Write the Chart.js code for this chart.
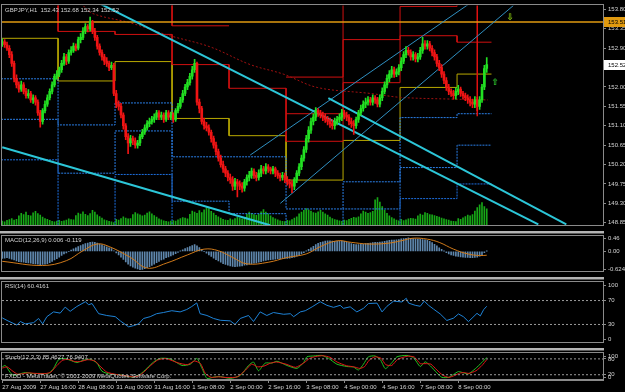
<!DOCTYPE html>
<html><head><meta charset="utf-8">
<script src="https://cdn.jsdelivr.net/npm/chart.js@4.4.1/dist/chart.umd.min.js"></script>
<style>
html,body{margin:0;padding:0;background:#000;}
body{width:625px;height:392px;position:relative;overflow:hidden}
canvas{position:absolute;left:0;display:block}
</style></head><body>
<canvas id="cMain" style="top:0px;width:625px;height:231px" width="625" height="231"></canvas>
<canvas id="cMacd" style="top:231px;width:625px;height:46px" width="625" height="46"></canvas>
<canvas id="cRsi" style="top:277px;width:625px;height:71px" width="625" height="71"></canvas>
<canvas id="cSto" style="top:348px;width:625px;height:44px" width="625" height="44"></canvas>
<script>
// ---------------- DATA ----------------
const symbolTitle = 'GBPJPY,H1  152.43 152.68 152.34 152.52';
const opens = [
153.00,153.05,152.98,152.90,152.75,152.55,152.20,152.05,151.95,152.05,
151.90,151.80,151.85,151.70,151.75,151.65,151.40,151.20,151.45,151.60,
151.75,151.90,152.05,152.25,152.30,152.40,152.55,152.70,152.60,152.80,
152.85,152.95,152.90,153.10,153.15,153.30,153.40,153.35,153.50,153.30,
153.15,152.95,152.80,152.70,152.60,152.55,152.45,152.50,151.85,151.60,
151.55,151.35,151.10,150.85,150.70,150.80,150.75,150.65,150.70,150.85,
150.95,151.05,151.15,151.20,151.25,151.30,151.40,151.30,151.35,151.25,
151.40,151.30,151.35,151.25,151.45,151.55,151.70,151.85,152.00,152.10,
152.25,152.40,152.55,151.65,151.50,151.20,151.10,151.05,150.95,150.80,
150.65,150.50,150.35,150.20,150.10,150.00,149.90,149.85,149.70,149.80,
149.75,149.70,149.65,149.80,149.90,149.95,150.05,149.95,149.90,150.00,
150.10,150.05,150.15,150.10,150.05,150.10,150.00,149.95,149.90,149.95,
149.85,149.80,149.75,149.70,149.85,150.00,150.15,150.35,150.55,150.80,
151.00,151.20,151.30,151.45,151.40,151.35,151.30,151.25,151.20,151.15,
151.10,151.20,151.25,151.30,151.40,151.35,151.30,151.20,151.15,151.10,
151.25,151.40,151.50,151.60,151.65,151.70,151.65,151.75,151.70,151.60,
151.75,151.90,152.05,152.20,152.30,152.40,152.30,152.35,152.45,152.60,
152.75,152.85,152.80,152.70,152.75,152.65,152.70,152.85,153.00,152.95,
153.00,152.90,152.80,152.70,152.55,152.45,152.30,152.15,152.00,151.90,
151.85,151.80,151.90,151.95,151.85,151.80,151.75,151.70,151.65,151.60,
151.70,151.55,151.70,152.00,152.43];
const highs = [
153.12,153.10,153.04,152.96,152.82,152.60,152.28,152.12,152.14,152.10,
151.97,151.94,151.90,151.82,151.80,151.70,151.46,151.50,151.68,151.82,
151.96,152.12,152.30,152.38,152.46,152.62,152.78,152.76,152.86,152.94,
153.02,153.00,153.16,153.24,153.38,153.47,153.45,153.62,153.55,153.36,
153.20,153.00,152.86,152.76,152.68,152.60,152.58,152.55,151.92,151.68,
151.62,151.40,151.15,150.92,150.88,150.86,150.82,150.76,150.90,151.02,
151.12,151.22,151.28,151.32,151.38,151.46,151.45,151.42,151.40,151.46,
151.45,151.42,151.40,151.50,151.62,151.76,151.92,152.06,152.18,152.32,
152.48,152.64,152.58,151.72,151.55,151.28,151.18,151.12,151.00,150.86,
150.72,150.56,150.42,150.28,150.16,150.06,149.98,149.92,149.88,149.86,
149.82,149.78,149.86,149.96,150.04,150.12,150.10,150.02,150.08,150.18,
150.16,150.22,150.20,150.14,150.16,150.14,150.06,150.00,150.02,150.00,
149.92,149.86,149.82,149.90,150.06,150.22,150.42,150.62,150.88,151.08,
151.28,151.38,151.52,151.50,151.46,151.42,151.38,151.32,151.28,151.24,
151.28,151.32,151.38,151.48,151.46,151.42,151.36,151.28,151.22,151.30,
151.46,151.58,151.68,151.74,151.78,151.76,151.82,151.80,151.76,151.82,
151.98,152.12,152.28,152.38,152.48,152.46,152.42,152.52,152.68,152.82,
152.94,152.92,152.86,152.82,152.80,152.78,152.92,153.15,153.08,153.08,
153.06,152.96,152.86,152.76,152.62,152.52,152.36,152.22,152.06,151.96,
151.92,151.98,152.04,152.00,151.90,151.86,151.82,151.78,151.72,151.78,
151.76,151.78,152.06,152.50,152.68];
const lows = [
152.94,152.92,152.85,152.68,152.48,152.12,151.98,151.88,151.90,151.84,
151.74,151.74,151.64,151.62,151.58,151.34,151.07,151.14,151.40,151.55,
151.70,151.84,152.00,152.18,152.24,152.34,152.50,152.52,152.55,152.74,
152.80,152.84,152.86,153.02,153.10,153.24,153.28,153.30,153.24,153.08,
152.88,152.74,152.62,152.52,152.48,152.38,152.40,151.80,151.52,151.46,
151.28,151.02,150.78,150.45,150.62,150.66,150.58,150.58,150.64,150.80,
150.90,151.00,151.08,151.14,151.18,151.24,151.24,151.24,151.18,151.20,
151.24,151.24,151.18,151.20,151.40,151.50,151.64,151.80,151.94,152.04,
152.18,152.34,151.58,151.40,151.14,151.02,150.98,150.88,150.72,150.58,
150.42,150.28,150.14,150.02,149.92,149.82,149.76,149.60,149.62,149.45,
149.62,149.56,149.58,149.72,149.82,149.88,149.88,149.82,149.84,149.92,
149.98,149.98,150.02,149.98,149.98,149.92,149.88,149.82,149.84,149.78,
149.72,149.66,149.55,149.62,149.78,149.94,150.08,150.28,150.48,150.72,
150.92,151.12,151.22,151.32,151.28,151.22,151.18,151.12,151.06,151.02,
151.02,151.12,151.18,151.22,151.26,151.22,151.12,151.06,150.90,151.04,
151.18,151.34,151.44,151.52,151.58,151.58,151.58,151.62,151.54,151.54,
151.68,151.84,151.98,152.12,152.22,152.22,152.24,152.28,152.38,152.54,
152.68,152.74,152.62,152.62,152.58,152.58,152.64,152.78,152.88,152.88,
152.84,152.72,152.62,152.48,152.38,152.22,152.08,151.92,151.82,151.78,
151.72,151.72,151.82,151.78,151.72,151.68,151.62,151.56,151.52,151.52,
151.45,151.48,151.64,151.94,152.34];
const closes = [
153.05,152.98,152.90,152.75,152.55,152.20,152.05,151.95,152.05,151.90,
151.80,151.85,151.70,151.75,151.65,151.40,151.20,151.45,151.60,151.75,
151.90,152.05,152.25,152.30,152.40,152.55,152.70,152.60,152.80,152.85,
152.95,152.90,153.10,153.15,153.30,153.40,153.35,153.50,153.30,153.15,
152.95,152.80,152.70,152.60,152.55,152.45,152.50,151.85,151.60,151.55,
151.35,151.10,150.85,150.70,150.80,150.75,150.65,150.70,150.85,150.95,
151.05,151.15,151.20,151.25,151.30,151.40,151.30,151.35,151.25,151.40,
151.30,151.35,151.25,151.45,151.55,151.70,151.85,152.00,152.10,152.25,
152.40,152.55,151.65,151.50,151.20,151.10,151.05,150.95,150.80,150.65,
150.50,150.35,150.20,150.10,150.00,149.90,149.85,149.70,149.80,149.75,
149.70,149.65,149.80,149.90,149.95,150.05,149.95,149.90,150.00,150.10,
150.05,150.15,150.10,150.05,150.10,150.00,149.95,149.90,149.95,149.85,
149.80,149.75,149.70,149.85,150.00,150.15,150.35,150.55,150.80,151.00,
151.20,151.30,151.45,151.40,151.35,151.30,151.25,151.20,151.15,151.10,
151.20,151.25,151.30,151.40,151.35,151.30,151.20,151.15,151.10,151.25,
151.40,151.50,151.60,151.65,151.70,151.65,151.75,151.70,151.60,151.75,
151.90,152.05,152.20,152.30,152.40,152.30,152.35,152.45,152.60,152.75,
152.85,152.80,152.70,152.75,152.65,152.70,152.85,153.00,152.95,153.00,
152.90,152.80,152.70,152.55,152.45,152.30,152.15,152.00,151.90,151.85,
151.80,151.90,151.95,151.85,151.80,151.75,151.70,151.65,151.60,151.70,
151.55,151.70,152.00,152.43,152.52];
const volumes = [
450,380,520,610,700,560,640,980,1250,1120,1380,1050,990,1310,1470,1220,1080,860,720,640,530,410,380,450,
520,430,480,560,690,610,580,1010,1290,1180,1420,1150,1020,1230,1560,1380,1100,920,760,580,490,420,360,300,
620,540,710,880,760,690,720,1120,1340,1210,1090,980,1060,1270,1410,1190,1030,870,680,590,470,420,380,440,
510,460,590,720,810,770,690,1150,1480,1390,1260,1530,1340,1610,1820,1750,1470,1280,1050,880,760,640,560,520,
680,590,720,840,760,690,810,1180,1370,1260,1120,1050,1180,1420,1650,1380,1210,980,820,690,580,470,420,390,
530,470,610,760,890,1210,1380,1560,1740,1620,1490,1320,1270,1410,1560,1390,1210,1060,870,720,610,540,470,420,
560,510,620,740,830,790,880,1210,1490,1380,1260,1320,1470,2650,2890,2420,1960,1580,1240,980,820,690,560,480,
620,490,570,680,740,710,660,980,1180,1070,1340,1250,1120,1090,1010,940,870,760,690,610,540,460,410,390,
720,640,780,910,1060,980,1120,1490,1840,2130,2380,1960,1720];

// pivot levels per trading day (27 Aug .. 8 Sep); values outside the visible range are off-chart, null = not drawn
const dayStartBars = [-0.5,23.5,47.5,71.5,95.5,119.5,143.5,167.5,191.5];
const lastBarEdge = 206;
const pivotP  = [153.13,152.14,152.59,151.27,150.87,149.84,150.76,151.99,152.30];
const pivotR1 = [154.20,153.29,153.22,152.52,151.97,150.74,152.10,153.19,153.04];
const pivotR2 = [null,154.20,154.20,153.42,null,151.38,153.10,153.87,154.20];
const pivotR3 = [null,null,null,null,null,152.23,154.20,null,null];
const pivotS1 = [152.19,151.12,151.63,150.38,150.38,149.17,149.80,151.29,151.38];
const pivotS2 = [151.25,150.00,150.98,149.35,149.06,148.50,149.17,150.13,150.65];
const pivotS3 = [150.31,148.50,149.97,148.50,148.50,148.50,148.50,149.41,149.75];
const vLineBar = 200;

const hLinePrice = 153.51;
const lastPrice = 152.52;
// trend lines: [bar, price] end points
const trendCyan = [
  [[41.3,153.93],[225.7,148.81]],
  [[137.3,151.74],[237.5,148.81]],
  [[0,150.60],[112.8,148.79]]
];
const channelLines = [
  [[117.1,149.30],[215.2,153.89]],
  [[104.4,150.42],[196.6,153.93]]
];
const maCurve = [[33,153.95],[37.9,153.71],[53.9,153.49],[70,153.20],[87.6,152.93],[104.4,152.52],[118.3,152.30],[132.6,151.99],[155,151.85],[167.6,151.76],[188.6,151.72],[204.5,151.70]];
const arrowMarks = [{bar:207.6, price:152.10, ch:'\u21E7', color:'#2ecc2e'}, {bar:213.9, price:153.62, ch:'\u21E9', color:'#8ccc10'}];

const priceTicks = [153.80,153.35,152.90,152.45,152.00,151.55,151.10,150.65,150.20,149.75,149.30,148.85];

// MACD(12,26,9)
const macdTitle = 'MACD(12,26,9) 0.006 -0.119';
const macdMain = [
-0.22,-0.21,-0.20,-0.22,-0.24,-0.27,-0.30,-0.32,-0.33,-0.34,
-0.35,-0.36,-0.37,-0.38,-0.39,-0.40,-0.42,-0.41,-0.40,-0.38,
-0.35,-0.31,-0.27,-0.23,-0.18,-0.13,-0.08,-0.05,0.00,0.04,
0.08,0.11,0.15,0.18,0.21,0.24,0.26,0.28,0.29,0.28,
0.26,0.23,0.20,0.17,0.14,0.11,0.09,0.02,-0.05,-0.11,
-0.18,-0.25,-0.33,-0.40,-0.45,-0.49,-0.52,-0.55,-0.57,-0.56,
-0.54,-0.51,-0.48,-0.44,-0.40,-0.35,-0.31,-0.27,-0.24,-0.20,
-0.17,-0.14,-0.11,-0.07,-0.03,0.01,0.05,0.09,0.12,0.15,
0.18,0.21,0.17,0.12,0.06,0.00,-0.06,-0.11,-0.16,-0.21,
-0.26,-0.30,-0.34,-0.38,-0.41,-0.43,-0.45,-0.47,-0.48,-0.47,
-0.46,-0.45,-0.43,-0.42,-0.40,-0.38,-0.37,-0.36,-0.34,-0.32,
-0.30,-0.28,-0.27,-0.26,-0.25,-0.24,-0.23,-0.23,-0.22,-0.22,
-0.22,-0.21,-0.20,-0.18,-0.15,-0.12,-0.08,-0.04,0.01,0.06,
0.11,0.16,0.21,0.25,0.28,0.30,0.32,0.33,0.33,0.32,
0.31,0.31,0.31,0.32,0.31,0.29,0.27,0.24,0.22,0.21,
0.21,0.22,0.23,0.24,0.25,0.26,0.27,0.28,0.28,0.29,
0.30,0.31,0.33,0.34,0.35,0.35,0.36,0.37,0.39,0.40,
0.41,0.42,0.41,0.40,0.39,0.38,0.38,0.37,0.36,0.34,
0.31,0.27,0.22,0.17,0.11,0.06,0.01,-0.04,-0.08,-0.11,
-0.13,-0.15,-0.16,-0.17,-0.18,-0.19,-0.19,-0.20,-0.20,-0.19,
-0.18,-0.15,-0.10,-0.04,0.006];
const macdSignal = [[0,-0.31],[17,-0.44],[27,-0.29],[34,0.02],[40,0.23],[45,0.15],[54,-0.19],[61,-0.52],[69,-0.37],[78,-0.11],[85,0.07],[91,0.02],[97,-0.19],[103,-0.39],[112,-0.34],[120,-0.19],[128,-0.08],[134,0.15],[141,0.33],[147,0.28],[154,0.23],[162,0.25],[168,0.33],[173,0.41],[179,0.38],[184,0.28],[190,0.07],[196,-0.08],[201,-0.13],[204,-0.12]];
const macdTicks = [0.46,0.00,-0.624];
const macdTickText = ['0.46','0.00','-0.624'];

// RSI(14)
const rsiTitle = 'RSI(14) 60.4161';
const rsiLine = [[0,41],[2.4,36],[6.2,29],[7.6,35],[9.7,31],[13.2,33],[15.3,40],[17,31],[18.8,43],[21.6,51],[24.4,49],[26.5,59],[28.6,52],[31.4,60],[35,68],[36.4,63],[37.8,65],[40.6,48],[44,45],[47.6,43],[49.7,36],[53.2,26],[55.3,28],[57.4,31],[59.5,40],[62.3,43],[65,48],[67.9,50],[71.4,53],[74.9,51],[77.7,55],[79.8,60],[81.9,66],[83.3,48],[86.2,45],[89,40],[91.8,37],[96,36],[98,30],[100.2,40],[103.7,45],[105.8,35],[108.6,51],[111.4,45],[114.2,50],[118.5,47],[121.3,48],[122.7,43],[125.5,51],[127.6,53],[130.5,59.5],[133.9,68],[136.7,62],[139.5,58.6],[142.3,62],[143.7,57],[146.5,59.5],[149.3,51],[152.1,57],[154.2,65],[157.8,65.7],[159.9,51],[162,60.4],[164.8,69],[168.3,67.6],[170.1,73.8],[171.1,65.7],[173.9,62],[176,60.4],[177.7,69],[179.5,62],[181.6,55.7],[184.4,47.6],[187.2,36.7],[190,40.5],[192.1,47.6],[194.2,42.9],[196.3,34.8],[197.8,40.5],[199.9,48.6],[201.3,44.3],[202.7,54.8],[204,60.4]];
const rsiLevels = [70,30];
const rsiTicks = [100,70,30,0];

// Stochastic(12,3,3)
const stoTitle = 'Stoch(12,3,3) 85.4627 76.9407';
const stoMain = [[0,49.5],[1.3,55],[3.4,28],[4.8,17],[6.9,22],[9.7,28],[13.2,24],[15.3,25],[17.4,24],[19.5,24],[21.6,44],[23.7,77],[25.8,82],[28.6,75],[31.4,66],[34.2,75],[37,79],[39.9,64],[42,33],[45.5,22],[49.7,20],[53.2,13],[55.3,11],[58.1,22],[60.9,44],[63.7,68],[66.5,82],[70.7,80],[75.7,55],[79.2,60],[82,82],[84.1,44],[86.2,6],[89,11],[91.8,13],[96,6],[100.2,17],[103.7,55],[105.8,68],[107.9,35],[110.7,64],[113.5,64],[115.7,71],[119.9,55],[124.1,44],[126.9,66],[128.3,88],[131.1,91],[134.6,93],[137.4,82],[140.9,60],[145.1,51],[147.9,49],[150,38],[152.1,60],[154.2,88],[157,91],[159.2,77],[161.3,43],[164.1,66],[166.2,88],[170.4,93],[173.2,84],[176,51],[178.1,69],[180.2,54],[183,27],[185.1,10],[187.9,10],[190,21],[192.1,32],[194.2,27],[196.3,23],[199.2,43],[201.9,66],[204,85.5]];
const stoSignal = [[0,45],[2,50],[4.5,33],[6.5,22],[8.5,24],[11,27],[14,25],[18,24],[20.5,30],[23,55],[25.5,75],[28,78],[30.5,70],[33,70],[36,77],[39,72],[41.5,50],[44,30],[48,21],[52,16],[55,12],[57.5,16],[60,33],[62.5,55],[65.5,76],[69,81],[74,65],[78,58],[81,72],[83.5,62],[85.5,25],[88,10],[91,12],[95,9],[99,12],[102.5,38],[105,60],[107.5,50],[110,52],[113,64],[115.5,68],[119.5,60],[123.5,48],[127,65],[129.5,82],[132,89],[135,92],[138,86],[141,68],[145,54],[148,50],[150.5,44],[152.5,50],[154.5,75],[157,88],[159.5,82],[161.5,58],[164,55],[166.5,78],[170.5,90],[173.5,87],[176,62],[178,62],[180.5,60],[183,38],[185.5,18],[188,10],[190.5,17],[192.5,26],[194.5,28],[196.5,25],[199.5,35],[202,55],[204,77]];
const stoLevels = [80,20];
const stoTicks = [100,80,20,0];
const copyright = 'FXDD - MetaTrader, \u00A9 2001-2009 MetaQuotes Software Corp.';

// time axis
const timeTickBars = [0,16,32,48,64,80,96,112,128,144,160,176,192];
const timeLabels = ['27 Aug 2009','27 Aug 16:00','28 Aug 08:00','31 Aug 00:00','31 Aug 16:00','1 Sep 08:00','2 Sep 00:00','2 Sep 16:00','3 Sep 08:00','4 Sep 00:00','4 Sep 16:00','7 Sep 08:00','8 Sep 00:00'];

// ---------------- RENDER ----------------
const X_MIN = -0.1, X_MAX = 252.95;
const FONT = 'Liberation Sans';
const TXT = '#d4d4d4';
const AX = '#8a8a8a';
const UP = '#22e022', DN = '#f01414';
Chart.defaults.font.family = FONT;
Chart.defaults.font.size = 6;
Chart.defaults.color = TXT;

const idx = closes.map((_, i) => i);
const pts = arr => arr.map(p => ({x: p[0], y: p[1]}));
const hline = v => [{x: X_MIN, y: v}, {x: X_MAX, y: v}];
function stepData(levels) {
  const d = [];
  levels.forEach((lv, k) => {
    const s = dayStartBars[k];
    const e = k + 1 < dayStartBars.length ? dayStartBars[k + 1] : lastBarEdge;
    if (lv === null) { d.push({x: s, y: null}); }
    else { d.push({x: s, y: lv}); d.push({x: e, y: lv}); }
  });
  return d;
}
function lineDs(data, color, width, dash, extra) {
  return Object.assign({type: 'line', data, borderColor: color, borderWidth: width, borderDash: dash || [], pointRadius: 0, fill: false, tension: 0, spanGaps: false}, extra || {});
}
const makeX = () => ({type: 'linear', min: X_MIN, max: X_MAX, offset: false, display: false, grid: {offset: false}});

const framePlugin = {
  id: 'frame',
  afterDraw(chart) {
    const {ctx, chartArea: a} = chart;
    const t = chart.options.plugins.frame || {};
    ctx.save();
    ctx.strokeStyle = AX; ctx.lineWidth = 1;
    ctx.strokeRect(Math.floor(a.left) - 0.5, Math.floor(a.top) - 0.5, Math.round(a.right - a.left) + 1, Math.round(a.bottom - a.top) + 1);
    if (t.topBand) {
      ctx.fillStyle = '#b4b4b4'; ctx.fillRect(0, 0, Math.round(a.right) + 1, 2);
      ctx.fillStyle = '#5a5a5a'; ctx.fillRect(0, 2, Math.round(a.right) + 1, 1);
    }
    ctx.font = '6px ' + FONT; ctx.fillStyle = TXT; ctx.textBaseline = 'middle'; ctx.textAlign = 'left';
    (t.texts || []).forEach(tx => ctx.fillText(tx.s, a.left + 3, a.top + tx.dy));
    ctx.restore();
  }
};

function yAxis(min, max, ticks, textFn, insetPx) {
  return {
    position: 'right', min, max,
    afterBuildTicks: s => {
      const ppu = (s.bottom - s.top) / (max - min);
      s.ticks = ticks.map(v => {
        let val = v;
        if (insetPx) {
          if (v === max) val = v - insetPx[0] / ppu;
          if (v === min) val = v + insetPx[1] / ppu;
        }
        return {value: val};
      });
    },
    afterFit: s => { s.width = 22; },
    ticks: {autoSkip: false, padding: 2, color: TXT, font: {size: 6, family: FONT}, callback: (v, i) => textFn(i)},
    grid: {drawOnChartArea: false, drawTicks: true, tickLength: 3, color: AX},
    border: {display: true, color: AX}
  };
}
const baseOpts = (padding) => ({
  responsive: false, maintainAspectRatio: false, animation: false, devicePixelRatio: 1, events: [],
  layout: {padding},
  plugins: {legend: {display: false}, tooltip: {enabled: false}}
});

// ---- main price chart ----
const P_MIN = 148.788, P_MAX = 153.889;
const mainDatasets = [
  {type: 'bar', data: idx.map(i => ({x: i, y: volumes[i]})), yAxisID: 'vol', backgroundColor: '#17a817', barThickness: 1, grouped: false, order: 20},
  lineDs(stepData(pivotS3), '#1d6fe0', 1, [2, 1], {order: 12}),
  lineDs(stepData(pivotS2), '#2a7fe8', 1, [2, 1], {order: 12}),
  lineDs(stepData(pivotS1), '#2a7fe8', 1, [2, 1], {order: 12}),
  lineDs(stepData(pivotR3), '#d01010', 1, [], {order: 12}),
  lineDs(stepData(pivotR2), '#d01010', 1, [], {order: 12}),
  lineDs(stepData(pivotR1), '#d01010', 1, [], {order: 12}),
  lineDs(stepData(pivotP), '#b8a800', 1, [], {order: 12}),
  lineDs([{x: vLineBar, y: 154.2}, {x: vLineBar, y: 151.32}], '#e01010', 1.5, [], {order: 11}),
  lineDs(pts(maCurve), '#a01010', 1, [2, 2], {tension: 0.35, order: 11}),
  lineDs(hline(hLinePrice), '#e09a10', 1.5, [], {order: 10}),
  ...channelLines.map(l => lineDs(pts(l), '#2f8fc0', 1, [], {order: 9})),
  ...trendCyan.map(l => lineDs(pts(l), '#2cc6d8', 2, [], {order: 8})),
  {type: 'bar', data: idx.map(i => ({x: i, y: [lows[i], highs[i]]})), backgroundColor: c => (closes[c.dataIndex] >= opens[c.dataIndex] ? UP : DN), barThickness: 1, grouped: false, order: 2},
  {type: 'bar', data: idx.map(i => ({x: i, y: [opens[i], closes[i]]})), backgroundColor: c => (closes[c.dataIndex] >= opens[c.dataIndex] ? UP : DN), barThickness: 2, grouped: false, order: 1}
];
const mainOpts = baseOpts({left: 2, top: 2, bottom: 1, right: 0});
mainOpts.scales = {
  x: makeX(),
  y: yAxis(P_MIN, P_MAX, priceTicks, i => priceTicks[i].toFixed(2)),
  vol: {axis: 'y', display: false, min: 0, max: 22800}
};
mainOpts.plugins.frame = {texts: [{s: symbolTitle, dy: 4.5}]};
const markPlugin = {
  id: 'marks',
  afterDraw(chart) {
    const {ctx, chartArea: a, scales} = chart;
    ctx.save();
    ctx.font = 'bold 9px DejaVu Sans'; ctx.textAlign = 'center'; ctx.textBaseline = 'middle';
    arrowMarks.forEach(m => { ctx.fillStyle = m.color; ctx.fillText(m.ch, scales.x.getPixelForValue(m.bar), scales.y.getPixelForValue(m.price)); });
    ctx.font = '6px ' + FONT; ctx.textAlign = 'left';
    [[hLinePrice, '#e09a10'], [lastPrice, '#ffffff']].forEach(([v, col]) => {
      const y = Math.round(scales.y.getPixelForValue(v));
      ctx.fillStyle = col; ctx.fillRect(a.right + 1, y - 5, 22, 10);
      ctx.fillStyle = '#000'; ctx.fillText(v.toFixed(2), a.right + 5, y + 0.5);
    });
    ctx.restore();
  }
};
new Chart(document.getElementById('cMain'), {data: {datasets: mainDatasets}, options: mainOpts, plugins: [framePlugin, markPlugin]});

// ---- MACD ----
const macdOpts = baseOpts({left: 2, top: 3, bottom: 2, right: 0});
macdOpts.scales = {x: makeX(), y: yAxis(-0.624, 0.46, macdTicks, i => macdTickText[i], [2, 2])};
macdOpts.plugins.frame = {topBand: true, texts: [{s: macdTitle, dy: 4}]};
new Chart(document.getElementById('cMacd'), {
  data: {datasets: [
    lineDs(pts(macdSignal), '#d07a1a', 1, [], {tension: 0.4, order: 1}),
    {type: 'bar', data: idx.map(i => ({x: i, y: macdMain[i]})), backgroundColor: '#5f87ad', barThickness: 1, grouped: false, order: 2}
  ]},
  options: macdOpts, plugins: [framePlugin]
});

// ---- RSI ----
const rsiOpts = baseOpts({left: 2, top: 3, bottom: 0, right: 0});
rsiOpts.scales = {x: makeX(), y: yAxis(0, 100, rsiTicks, i => String(rsiTicks[i]), [3, 3])};
rsiOpts.plugins.frame = {topBand: true, texts: [{s: rsiTitle, dy: 4}]};
new Chart(document.getElementById('cRsi'), {
  data: {datasets: [
    ...rsiLevels.map(v => lineDs(hline(v), '#9a9a9a', 1, [2, 2])),
    lineDs(pts(rsiLine), '#1e82d6', 1, [])
  ]},
  options: rsiOpts, plugins: [framePlugin]
});

// ---- Stochastic + time axis ----
const stoOpts = baseOpts({left: 2, top: 3, bottom: 0, right: 0});
stoOpts.scales = {
  x: {type: 'linear', min: X_MIN, max: X_MAX, offset: false, position: 'bottom',
    afterBuildTicks: s => { s.ticks = timeTickBars.map(v => ({value: v})); },
    afterFit: s => { s.height = 12; },
    ticks: {autoSkip: false, maxRotation: 0, minRotation: 0, align: 'start', padding: 1, color: TXT, font: {size: 6, family: FONT}, callback: (v, i) => timeLabels[i]},
    grid: {drawOnChartArea: false, drawTicks: true, tickLength: 3, color: AX, offset: false},
    border: {display: true, color: AX}},
  y: yAxis(0, 100, stoTicks, i => String(stoTicks[i]), [3, 3])
};
stoOpts.plugins.frame = {topBand: true, texts: [{s: stoTitle, dy: 4}, {s: copyright, dy: 23}]};
new Chart(document.getElementById('cSto'), {
  data: {datasets: [
    ...stoLevels.map(v => lineDs(hline(v), '#9a9a9a', 1, [2, 2])),
    lineDs(pts(stoSignal), '#e01818', 1, [], {tension: 0.2}),
    lineDs(pts(stoMain), '#22c022', 1, [], {tension: 0.2})
  ]},
  options: stoOpts, plugins: [framePlugin]
});
</script>
</body></html>
